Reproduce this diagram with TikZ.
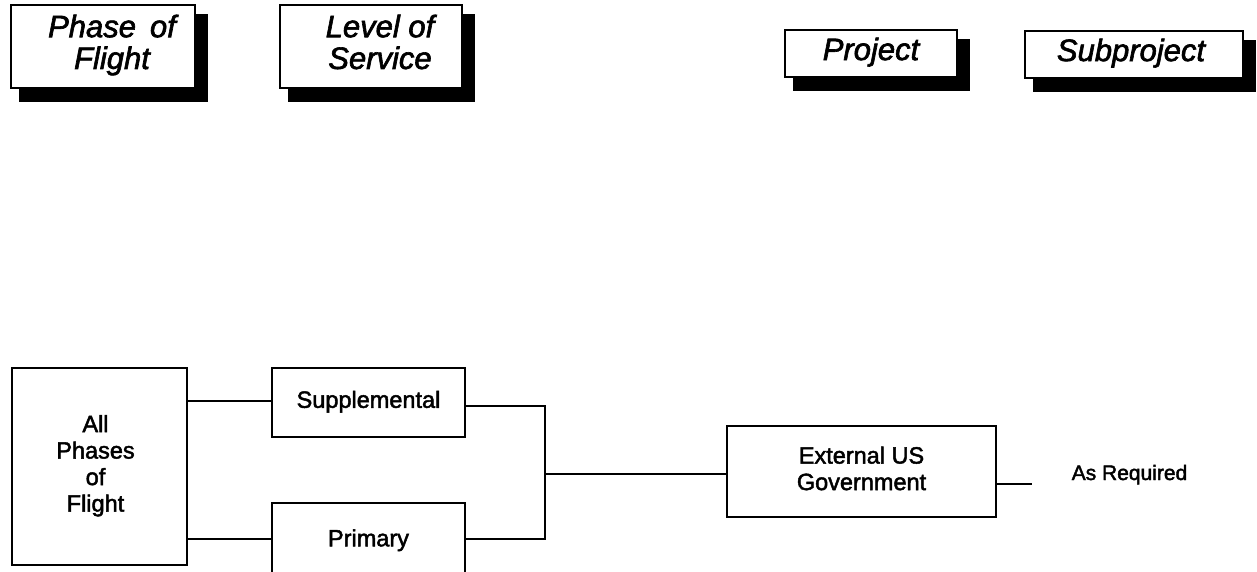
\documentclass[tikz,border=0pt]{standalone}
\usepackage{fontspec}
\setmainfont{Liberation Sans}[FakeBold=2]
\usetikzlibrary{backgrounds}

% centred multi-line label, shifted right by half of #1 and raised by #2
\newcommand\boxlabel[3]{\raisebox{#2}{\hspace*{#1}\begin{tabular}{@{}c@{}}#3\end{tabular}}}

\tikzset{
  titlebox/.style={draw, fill=white, line width=1.6pt, inner sep=0pt,
    font=\itshape\fontsize{31}{31}\selectfont},
  unitbox/.style={draw, fill=white, line width=1.6pt, inner sep=0pt,
    font=\fontsize{23.5}{26.5}\selectfont},
  link/.style={line width=1.6pt},
  note/.style={font=\fontsize{21}{24}\selectfont, inner sep=0pt, anchor=base},
}

\begin{document}
\begin{tikzpicture}[x=1pt, y=-1pt]
\useasboundingbox (0,0) rectangle (1257,571);
\clip (0,0) rectangle (1257,571);

% heading boxes with drop shadows
\node[titlebox, minimum width=184, minimum height=83] (phase) at (103,46.5)
  {\boxlabel{18pt}{1pt}{Phase\hspace{14pt}of\\Flight}};
\node[titlebox, minimum width=182, minimum height=83] (level) at (371,46.5)
  {\boxlabel{18pt}{1.5pt}{Level of\\Service}};
\node[titlebox, minimum width=172, minimum height=47] (proj) at (871,53.5)
  {\boxlabel{0pt}{5pt}{Project}};
\node[titlebox, minimum width=218, minimum height=47] (subproj) at (1134,54.5)
  {\boxlabel{-6pt}{5.5pt}{Subproject}};

\begin{scope}[on background layer]
  \foreach \n in {phase,level,proj,subproj}
    \fill ([shift={(9,10)}]\n.north west) rectangle ([shift={(12,13)}]\n.south east);
\end{scope}

% level-of-service breakdown
\node[unitbox, minimum width=175, minimum height=197] (all) at (99.5,466.5)
  {\boxlabel{-8pt}{0pt}{All\\Phases\\of\\Flight}};
\node[unitbox, minimum width=193, minimum height=69] (sup) at (368.5,402.5)
  {\boxlabel{0pt}{0pt}{Supplemental}};
\node[unitbox, minimum width=193, minimum height=76] (pri) at (368.5,541)
  {\boxlabel{0pt}{0pt}{Primary}};
\node[unitbox, minimum width=269, minimum height=91] (ext) at (861.5,471.5)
  {\boxlabel{0pt}{-2pt}{\fontsize{23.5}{28}\selectfont External US\\Government}};
\node[note] (req) at (1129.5,480) {As Required};

\coordinate (join) at (545,474);
\coordinate (tail) at (1032,484);

\draw[link] (all.east |- 0,401) -- (sup.west |- 0,401);
\draw[link] (all.east |- 0,539) -- (pri.west |- 0,539);
\draw[link] (sup.east |- 0,406) -| (join);
\draw[link] (pri.east |- 0,539) -| (join);
\draw[link] (join) -- (ext.west |- join);
\draw[link] (ext.east |- tail) -- (tail);
\end{tikzpicture}
\end{document}
